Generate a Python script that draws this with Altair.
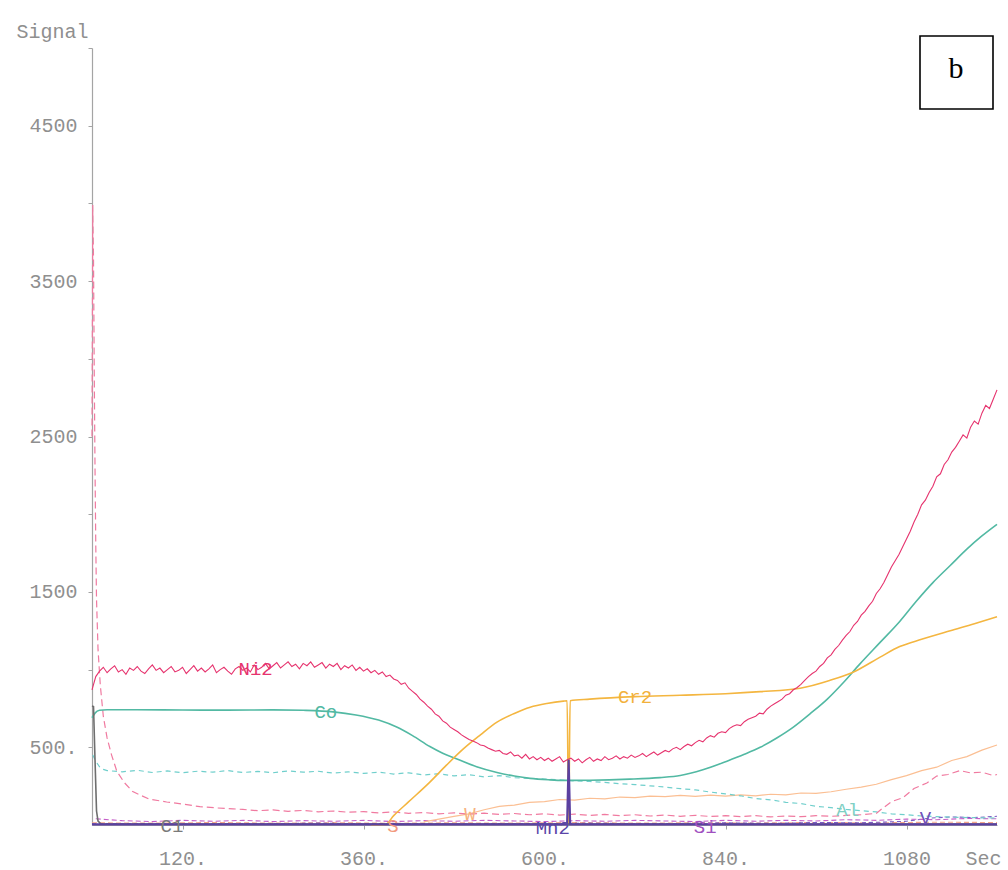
import altair as alt
import pandas as pd

# ---------------- data: GD-OES depth profile (signal vs sputter time) ----------------
# Ni2 (noisy solid), sampled every 5 s
ni2_t = list(range(0, 1201, 5))
ni2_v = [870,
         955, 990, 1015, 980, 1005, 1025, 985, 1000, 970, 1010,
         995, 1020, 990, 975, 1005, 1030, 995, 1010, 980, 1000,
         1020, 985, 995, 1015, 975, 1000, 1025, 990, 1010, 985,
         1005, 1030, 980, 1000, 1015, 990, 970, 1005, 1020, 995,
         1010, 985, 1030, 1000, 1015, 1040, 1005, 1025, 1045, 1010,
         1030, 1050, 1020, 1035, 1005, 1040, 1025, 1050, 1015, 1030,
         1045, 1010, 1035, 1020, 1040, 1000, 1025, 1010, 1030, 995,
         1015, 990, 1005, 980, 995, 970, 985, 955, 965, 940,
         930, 905, 915, 880, 860, 840, 810, 790, 765, 745,
         715, 700, 670, 655, 630, 615, 600, 580, 565, 550,
         540, 530, 515, 510, 495, 485, 475, 480, 460, 455,
         470, 445, 450, 430, 455, 425, 440, 420, 435, 415,
         430, 410, 425, 440, 405, 420, 430, 410, 425, 400,
         420, 435, 410, 425, 415, 440, 420, 430, 445, 425,
         440, 430, 450, 435, 445, 460, 440, 455, 470, 450,
         465, 480, 470, 490, 500, 485, 505, 520, 510, 530,
         545, 535, 560, 575, 565, 590, 600, 595, 620, 635,
         645, 640, 665, 680, 690, 700, 720, 715, 745, 765,
         780, 795, 810, 835, 845, 870, 885, 905, 930, 955,
         975, 990, 1020, 1040, 1075, 1095, 1130, 1155, 1190, 1220,
         1245, 1285, 1310, 1350, 1375, 1410, 1440, 1490, 1520, 1560,
         1610, 1660, 1700, 1740, 1790, 1840, 1890, 1950, 2000, 2060,
         2090, 2140, 2180, 2240, 2260, 2320, 2350, 2400, 2430, 2470,
         2510, 2490, 2560, 2600, 2580, 2650, 2700, 2680, 2740, 2800]

# Co (smooth solid)
co_t = [0, 4, 10, 20, 60, 120, 180, 240, 280, 320, 350, 380, 404, 425, 448, 465,
        484, 510, 537, 560, 581, 605, 625, 660, 713, 753, 780, 810, 842, 865, 886,
        908, 930, 952, 975, 997, 1018, 1045, 1071, 1093, 1115, 1138, 1160, 1180, 1200]
co_v = [690, 720, 738, 742, 742, 740, 739, 741, 738, 728, 708, 675, 630, 575, 505, 462,
        425, 375, 338, 315, 300, 291, 287, 288, 295, 305, 318, 355, 411, 455, 500,
        560, 630, 715, 810, 920, 1035, 1175, 1310, 1440, 1560, 1670, 1775, 1860, 1935]

# Cr2 (smooth solid, one dropped sample)
cr2_t = [370, 389, 400, 420, 448, 470, 492, 515, 537, 560, 581, 603, 625, 630, 632, 634,
         660, 720, 780, 840, 886, 939, 978, 1012, 1045, 1071, 1100, 1138, 1170, 1200]
cr2_v = [0, 3, 60, 150, 276, 385, 488, 580, 662, 718, 758, 782, 797, 799, 0, 800,
         810, 826, 835, 845, 858, 880, 930, 990, 1080, 1148, 1195, 1250, 1295, 1340]

# Mn2 (baseline with a single spike)
mn2_t = [0, 630, 632, 634, 1200]
mn2_v = [4, 4, 420, 4, 4]

# C1 (initial surface spike)
c1_t = [0, 2, 4, 6, 8, 12, 1200]
c1_v = [765, 762, 420, 90, 25, 6, 6]

# H (dashed, surface spike then tail)
h_t = [0, 1, 2, 3, 4, 5, 6, 8, 11, 15, 20, 26, 33, 43, 54, 75, 99, 120, 143, 165, 187,
       200, 220, 240, 260, 280, 300, 320, 340, 360, 380, 400, 420, 440, 460, 480, 500,
       520, 540, 560, 580, 600, 620, 640, 660, 680, 700, 720, 740, 760, 780, 800, 820,
       840, 860, 880, 900, 920, 940, 960, 980, 1000, 1020, 1040, 1045, 1060, 1075, 1090,
       1107, 1120, 1135, 1151, 1165, 1180, 1195, 1200]
h_v = [2500, 3990, 3650, 2900, 2300, 1800, 1450, 1130, 900, 700, 560, 450, 345, 272, 215,
       168, 148, 135, 118, 110, 104,
       100, 92, 97, 88, 94, 85, 90, 82, 86, 78, 84, 75, 80, 72, 78, 70,
       76, 68, 74, 66, 72, 64, 70, 62, 68, 60, 66, 58, 64, 56, 62, 55,
       60, 54, 60, 52, 58, 54, 60, 56, 62, 66, 75, 95, 150, 175, 235,
       270, 315, 325, 350, 335, 340, 318, 325]

# Al (dashed)
al_t = [1, 5, 10, 15] + list(range(20, 1201, 20))
al_v = [450, 410, 375, 358,
        350, 342, 352, 338, 348, 336, 346, 340, 350, 338, 345, 336, 348, 340, 346, 334,
        342, 332, 340, 328, 336, 322, 330, 316, 324, 310, 318, 304, 300, 296, 290, 284,
        280, 274, 266, 260, 252, 244, 234, 226, 212, 200, 188, 170, 162, 146, 138, 120,
        112, 100, 92, 84, 72, 66, 58, 54, 50, 48, 46, 45]

# W (light noisy solid)
w_t = list(range(440, 1201, 20))
w_v = [20, 38, 55, 72, 98, 120, 128, 146, 150, 164, 160, 172, 168, 180, 176, 186, 182,
       190, 184, 192, 186, 194, 188, 198, 194, 206, 204, 214, 230, 244, 262, 292, 318,
       350, 372, 415, 440, 482, 515]

# Si (dashed, near baseline)
si_t = [5] + list(range(40, 1201, 40))
si_v = [40, 28, 22, 30, 24, 30, 22, 28, 24, 30, 22, 28, 24, 30, 26, 22, 28, 24, 30, 26,
        22, 30, 24, 30, 26, 34, 30, 38, 34, 42, 40]

# V (dashed, near baseline)
v_t = [0, 60, 120, 180, 240, 300, 360, 420, 480, 540, 600, 660, 720, 780, 840, 900, 960,
       1020, 1080, 1110, 1140, 1170, 1200]
v_v = [8, 10, 6, 10, 8, 12, 8, 10, 6, 10, 8, 12, 8, 10, 14, 10, 16, 14, 24, 44, 52, 48, 56]

# S (dashed, near baseline)
s_t = [0, 80, 160, 240, 320, 400, 480, 560, 640, 720, 800, 880, 960, 1040, 1120, 1200]
s_v = [14, 12, 16, 12, 15, 11, 14, 12, 16, 12, 14, 13, 16, 14, 18, 16]

# Element labels written on the traces
lab_text = ["Ni2", "Co", "Cr2", "C1", "S", "W", "Mn2", "Si", "Al", "V"]
lab_t = [217, 310, 720, 106, 399, 501, 611, 813, 1002, 1105]
lab_v = [1005, 726, 824, -6, -6, 71, -19, -13, 97, 45]
lab_color = ["#e6336e", "#52b9a3", "#f2b13c", "#7a7a7a", "#f29a7e", "#f6b27e",
             "#5b46a8", "#a050c0", "#7fd0c4", "#7050b8"]

# Axis ticks
x_tick_values = [120, 360, 600, 840, 1080]
x_tick_text = ["120.", "360.", "600.", "840.", "1080"]
y_tick_values = [500, 1000, 1500, 2000, 2500, 3000, 3500, 4000, 4500, 5000]
y_tick_text = ["500.", "", "1500", "", "2500", "", "3500", "", "4500", ""]

# ---------------- styling ----------------
GRAY = "#8f8f8f"
AXIS_GRAY = "#a4a4a4"
MONO = "Liberation Mono"


def ternary(values, texts):
    expr = "''"
    for val, txt in zip(values, texts):
        expr = f"datum.value == {val} ? '{txt}' : ({expr})"
    return expr


x_scale = alt.Scale(domain=[0, 1200], nice=False, zero=False)
y_scale = alt.Scale(domain=[0, 5000], nice=False)

x_axis = alt.Axis(values=x_tick_values, labelExpr=ternary(x_tick_values, x_tick_text),
                  title="Sec", titleX=891, titleY=33, titleAlign="center",
                  titleBaseline="middle", titleAngle=0, titleFont=MONO, titleFontSize=20,
                  titleFontWeight="normal", titleColor=GRAY,
                  labelFont=MONO, labelFontSize=20, labelColor=GRAY, labelPadding=29,
                  labelBaseline="middle", labelFlush=False, labelOverlap=False,
                  tickSize=4, tickColor=AXIS_GRAY, domainColor=AXIS_GRAY, domainWidth=1.2,
                  grid=False)
y_axis = alt.Axis(values=y_tick_values, labelExpr=ternary(y_tick_values, y_tick_text),
                  title="Signal", titleX=-76, titleY=-17, titleAlign="left",
                  titleBaseline="middle", titleAngle=0, titleFont=MONO, titleFontSize=20,
                  titleFontWeight="normal", titleColor=GRAY,
                  labelFont=MONO, labelFontSize=20, labelColor=GRAY, labelPadding=11,
                  labelBaseline="middle", labelFlush=False, labelOverlap=False,
                  tickSize=4, tickColor=AXIS_GRAY, domainColor=AXIS_GRAY, domainWidth=1.2,
                  grid=False)


def trace(t, v, color, width=1.3, dash=None, interp="linear"):
    df = pd.DataFrame({"t": t, "v": v})
    kw = dict(color=color, strokeWidth=width, interpolate=interp)
    if dash:
        kw["strokeDash"] = dash
    return alt.Chart(df).mark_line(**kw).encode(
        x=alt.X("t:Q", scale=x_scale, axis=x_axis),
        y=alt.Y("v:Q", scale=y_scale, axis=y_axis),
    )


layers = [
    trace(s_t, s_v, "#f4a58a", 1.1, [5, 3]),
    trace(v_t, v_v, "#7a5cc4", 1.1, [4, 3]),
    trace(si_t, si_v, "#c560c8", 1.1, [5, 3]),
    trace(w_t, w_v, "#fbbf93", 1.2),
    trace(al_t, al_v, "#70cfcc", 1.2, [5, 4]),
    trace(h_t, h_v, "#f07aa0", 1.2, [7, 4]),
    trace(co_t, co_v, "#52b9a3", 1.6, interp="monotone"),
    trace(cr2_t, cr2_v, "#f4b640", 1.6, interp="monotone"),
    trace(ni2_t, ni2_v, "#e6336e", 1.1),
    trace(c1_t, c1_v, "#6e6e6e", 1.6),
    trace(mn2_t, mn2_v, "#5b40a0", 2.2),
]

labels = alt.Chart(pd.DataFrame({"t": lab_t, "v": lab_v, "name": lab_text})).mark_text(
    font=MONO, fontSize=19, align="center", baseline="middle"
).encode(
    x=alt.X("t:Q", scale=x_scale, axis=x_axis),
    y=alt.Y("v:Q", scale=y_scale, axis=y_axis),
    text="name:N",
    color=alt.Color("name:N", scale=alt.Scale(domain=lab_text, range=lab_color), legend=None),
)

# panel tag "b" in a boxed frame at the top right
panel_box = alt.Chart(pd.DataFrame({"k": [0]})).mark_rect(
    fill="white", stroke="black", strokeWidth=1.6
).encode(x=alt.value(828), x2=alt.value(901), y=alt.value(-12), y2=alt.value(61))
panel_tag = alt.Chart(pd.DataFrame({"k": ["b"]})).mark_text(
    font="Liberation Serif", fontSize=30, color="black", align="center", baseline="alphabetic"
).encode(x=alt.value(864), y=alt.value(30), text="k:N")

chart = alt.layer(*layers, labels, panel_box, panel_tag).properties(
    width=905, height=777,
    autosize=alt.AutoSizeParams(type="none"),
    padding={"left": 92, "top": 48, "right": 11, "bottom": 45},
    background="white",
).configure_view(stroke=None)

chart.save("out.html", embed_options={"renderer": "svg", "actions": False})
